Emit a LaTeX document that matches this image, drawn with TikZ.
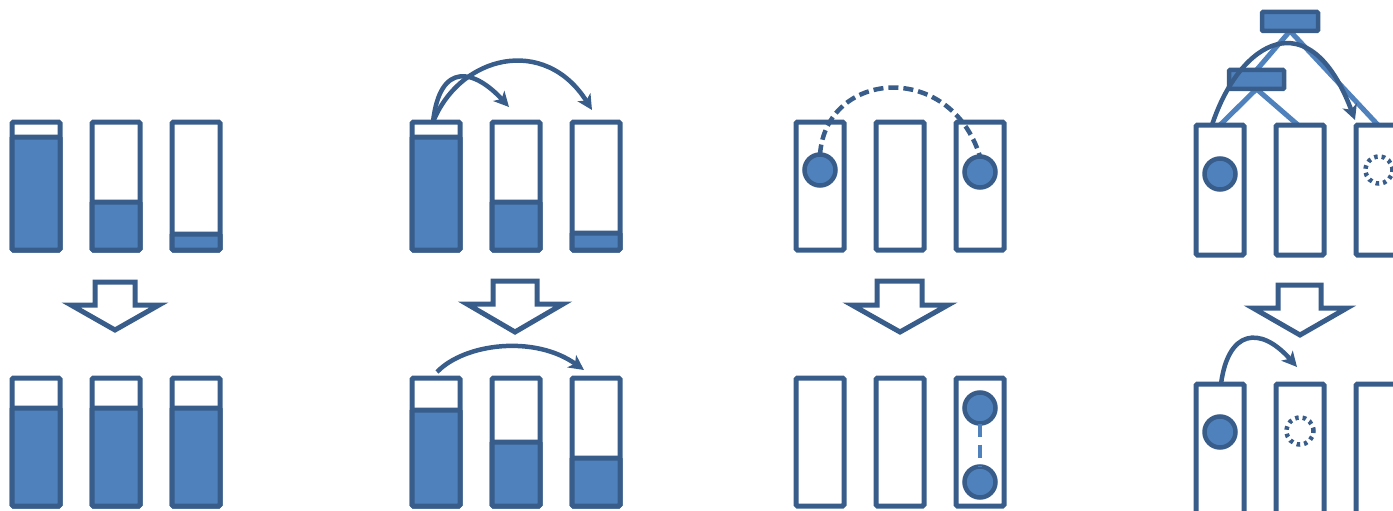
\documentclass[tikz,border=0pt]{standalone}
\usetikzlibrary{arrows.meta,backgrounds}
\definecolor{dk}{RGB}{56,93,138}
\definecolor{fl}{RGB}{79,129,189}
\tikzset{
  col/.style={draw=dk,line width=5pt,rounded corners=1.5pt,fill=white,minimum width=48pt,inner sep=0pt,outer sep=0pt},
  bar/.style={draw=dk,line width=5pt,rounded corners=1.5pt,fill=fl,minimum width=48pt,inner sep=0pt,outer sep=0pt,anchor=south},
  ball/.style={circle,draw=dk,fill=fl,line width=4.5pt,minimum size=31pt,inner sep=0pt,outer sep=0pt},
  ghost/.style={circle,draw=dk,line width=4.5pt,dash pattern=on 3.5pt off 4pt,minimum size=27pt,inner sep=0pt},
  blockarrow/.style={draw=dk,line width=5pt,fill=white,line join=miter},
  curv/.style={draw=dk,line width=4.5pt,-{Stealth[length=15pt,width=15pt,inset=4pt]}},
  dashcurv/.style={draw=dk,line width=4.5pt,dash pattern=on 10pt off 5pt},
  treeline/.style={draw=fl,line width=5pt},
  box/.style={draw=dk,fill=fl,line width=4.5pt,rounded corners=1pt,inner sep=0pt,outer sep=0pt}
}
\begin{document}
\begin{tikzpicture}[x=1pt,y=-1pt]
\useasboundingbox (0,0) rectangle (1393,511);
% ---------- group 1 ----------
\node[col,minimum height=128pt] (a1) at (36,186) {};
\node[col,minimum height=128pt] (a2) at (116,186) {};
\node[col,minimum height=128pt] (a3) at (196,186) {};
\node[bar,minimum height=113pt] at (a1.south) {};
\node[bar,minimum height=48pt] at (a2.south) {};
\node[bar,minimum height=16pt] at (a3.south) {};
\draw[blockarrow] (95,282) -- (135,282) -- (135,305) -- (159,305) -- (115,330) -- (71,305) -- (95,305) -- cycle;
\node[col,minimum height=128pt] (b1) at (36,442) {};
\node[col,minimum height=128pt] (b2) at (116,442) {};
\node[col,minimum height=128pt] (b3) at (196,442) {};
\node[bar,minimum height=98pt] at (b1.south) {};
\node[bar,minimum height=98pt] at (b2.south) {};
\node[bar,minimum height=98pt] at (b3.south) {};
% ---------- group 2 ----------
\node[col,minimum height=128pt] (c1) at (436,186) {};
\node[col,minimum height=128pt] (c2) at (516,186) {};
\node[col,minimum height=128pt] (c3) at (596,186) {};
\node[bar,minimum height=113pt] at (c1.south) {};
\node[bar,minimum height=48pt] at (c2.south) {};
\node[bar,minimum height=17pt] at (c3.south) {};
\coordinate (c2t) at (509,107);
\coordinate (c3t) at (592,110);
\draw[curv] ([xshift=-3pt]c1.north) .. controls (440,60) and (475,70) .. (c2t);
\draw[curv] ([xshift=-3pt]c1.north) .. controls (460,55) and (545,35) .. (c3t);
\draw[blockarrow] (493,281) -- (537,281) -- (537,304) -- (563,304) -- (515,332) -- (467,304) -- (493,304) -- cycle;
\node[col,minimum height=128pt] (d1) at (436,442) {};
\node[col,minimum height=128pt] (d2) at (516,442) {};
\node[col,minimum height=128pt] (d3) at (596,442) {};
\node[bar,minimum height=96pt] at (d1.south) {};
\node[bar,minimum height=64pt] at (d2.south) {};
\node[bar,minimum height=48pt] at (d3.south) {};
\coordinate (d1s) at (437,372);
\coordinate (d3t) at (584,370);
\draw[curv] (d1s) .. controls (465,343) and (535,335) .. (d3t);
% ---------- group 3 ----------
\node[col,minimum height=128pt] (e1) at (820,186) {};
\node[col,minimum height=128pt] (e2) at (900,186) {};
\node[col,minimum height=128pt] (e3) at (980,186) {};
\node[ball] (e1b) at (820,170) {};
\node[ball] (e3b) at (980,172) {};
\draw[dashcurv] (e1b.north) .. controls (826,70) and (950,60) .. (e3b.north);
\draw[blockarrow] (877,281) -- (922,281) -- (922,305) -- (948,305) -- (900,332) -- (852,305) -- (877,305) -- cycle;
\node[col,minimum height=128pt] (f1) at (820,442) {};
\node[col,minimum height=128pt] (f2) at (900,442) {};
\node[col,minimum height=128pt] (f3) at (980,442) {};
\node[ball] (f3a) at (980,408) {};
\node[ball] (f3b) at (980,482) {};
\draw[draw=fl,line width=4.5pt,dash pattern=on 13pt off 8pt] (f3a.south) -- (f3b.north);
% ---------- group 4 ----------
\node[col,minimum height=130pt] (g1) at (1220,190) {};
\node[col,minimum height=130pt] (g2) at (1300,190) {};
\node[col,minimum height=130pt] (g3) at (1380,190) {};
\node[ball] (g1b) at (1220,174) {};
\node[ghost] (g3b) at (1379,170) {};
\node[box,minimum width=56pt,minimum height=19pt] (r1) at (1290,21.5) {};
\node[box,minimum width=55pt,minimum height=19pt] (r2) at (1256.5,79.5) {};
\begin{pgfonlayer}{background}
\draw[treeline] (r1.south) -- (r2.north);
\draw[treeline] (r1.south) -- ([xshift=-2pt]g3.north);
\draw[treeline] (r2.south) -- (g1.north);
\draw[treeline] (r2.south) -- ([xshift=-2pt]g2.north);
\end{pgfonlayer}
\coordinate (g3t) at (1355,120);
\draw[curv] ([xshift=-8pt]g1.north) .. controls (1240,40) and (1310,0) .. (g3t);
\draw[blockarrow] (1278,285) -- (1321,285) -- (1321,308) -- (1347,308) -- (1300,335) -- (1253,308) -- (1278,308) -- cycle;
\node[col,minimum height=140pt] (h1) at (1220,454) {};
\node[col,minimum height=140pt] (h2) at (1300,454) {};
\node[col,minimum height=140pt] (h3) at (1380,454) {};
\node[ball] (h1b) at (1220,432) {};
\node[ghost] (h2b) at (1300,431) {};
\coordinate (h2t) at (1297,367);
\draw[curv] ([xshift=1pt]h1.north) .. controls (1228,330) and (1260,325) .. (h2t);
\end{tikzpicture}
\end{document}
